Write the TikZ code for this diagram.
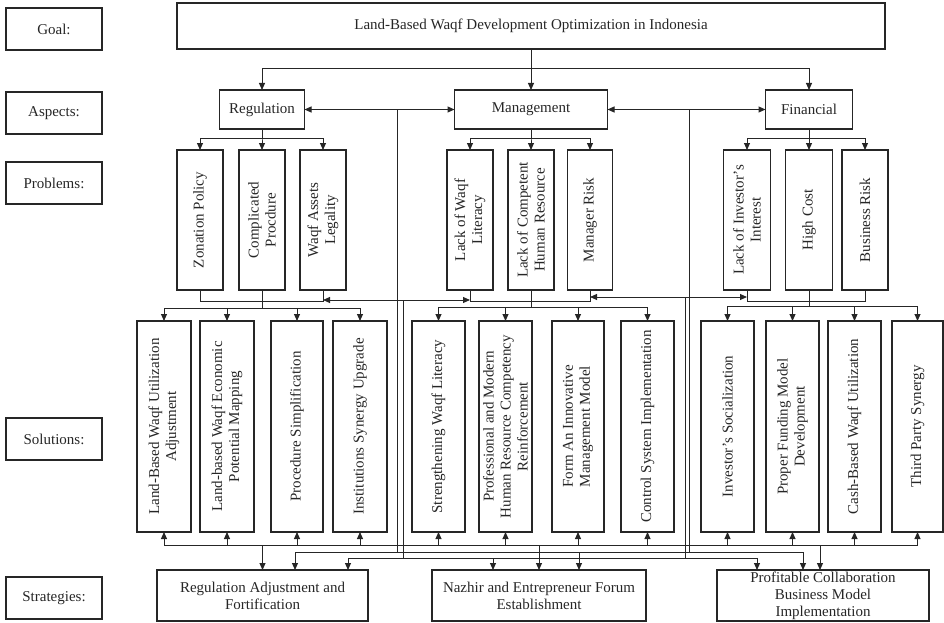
\documentclass[tikz,border=0pt]{standalone}
\usepackage{fontspec}
\setmainfont{Liberation Serif}
\usetikzlibrary{arrows.meta}
\definecolor{ink}{HTML}{262626}
\tikzset{
  bx/.style={draw=ink, line width=1.1pt, inner sep=0pt, outer sep=0pt},
  ln/.style={draw=ink, line width=1pt},
  arr/.style={ln, -{Triangle[length=7pt,width=6pt]}},
  darr/.style={ln, {Triangle[length=7pt,width=6pt]}-{Triangle[length=7pt,width=6pt]}},
  txt/.style={font=\fontsize{15}{17}\selectfont, align=center, inner sep=0pt, text=ink},
}
\newcommand\mybox[6]{%
  \node[bx, minimum width=#4, minimum height=#5] (#1) at (#2,#3) {};
  \node[txt] at (#1) {#6};}
\newcommand\myrbox[6]{%
  \node[bx, minimum width=#4, minimum height=#5] (#1) at (#2,#3) {};
  \node[txt, rotate=90] at (#1) {#6};}
\begin{document}
\begin{tikzpicture}[x=1pt,y=-1pt]
\useasboundingbox (0,0) rectangle (944,623);
% left labels
\mybox{l1}{54}{29}{96}{42}{Goal:}
\mybox{l2}{54}{113}{96}{42}{Aspects:}
\mybox{l3}{54}{183}{96}{42}{Problems:}
\mybox{l4}{54}{439}{96}{42}{Solutions:}
\mybox{l5}{54}{598}{96}{42}{Strategies:}
% goal
\mybox{goal}{531}{26}{708}{46}{Land-Based Waqf Development Optimization in Indonesia}
% aspects
\mybox{a1}{262}{109.5}{85}{39}{Regulation}
\mybox{a2}{531}{109.5}{153}{39}{Management}
\mybox{a3}{809}{109.5}{87}{39}{Financial}
% problems
\myrbox{p1}{200}{220}{46}{140}{Zonation Policy}
\myrbox{p2}{262}{220}{46}{140}{Complicated\\Procdure}
\myrbox{p3}{323}{220}{46}{140}{Waqf Assets\\Legality}
\myrbox{p4}{470}{220}{46}{140}{Lack of Waqf\\Literacy}
\myrbox{p5}{531}{220}{46}{140}{Lack of Competent\\Human Resource}
\myrbox{p6}{590}{220}{45}{140}{Manager Risk}
\myrbox{p7}{747}{220}{47}{140}{Lack of Investor’s\\Interest}
\myrbox{p8}{809}{220}{47}{140}{High Cost}
\myrbox{p9}{865}{220}{46}{140}{Business Risk}
% solutions
\myrbox{s1}{164}{426.5}{54}{211}{Land-Based Waqf Utilization\\Adjustment}
\myrbox{s2}{227}{426.5}{54}{211}{Land-based Waqf Economic\\Potential Mapping}
\myrbox{s3}{297}{426.5}{52}{211}{Procedure Simplification}
\myrbox{s4}{360}{426.5}{54}{211}{Institutions Synergy Upgrade}
\myrbox{s5}{438.5}{426.5}{53}{211}{Strengthening Waqf Literacy}
\myrbox{s6}{505.5}{426.5}{53}{211}{Professional and Modern\\Human Resource Competency\\Reinforcement}
\myrbox{s7}{578}{426.5}{52}{211}{Form An Innovative\\Management Model}
\myrbox{s8}{647.5}{426.5}{53}{211}{Control System Implementation}
\myrbox{s9}{727.5}{426.5}{53}{211}{Investor’s Socialization}
\myrbox{s10}{792.5}{426.5}{53}{211}{Proper Funding Model\\Development}
\myrbox{s11}{854.5}{426.5}{53}{211}{Cash-Based Waqf Utilization}
\myrbox{s12}{917.5}{426.5}{51}{211}{Third Party Synergy}
% strategies
\mybox{t1}{262.5}{595.5}{211}{51}{Regulation Adjustment and\\Fortification}
\mybox{t2}{539}{595.5}{214}{51}{Nazhir and Entrepreneur Forum\\Establishment}
\mybox{t3}{823}{595.5}{212}{51}{Profitable Collaboration\\Business Model\\Implementation}
% goal to aspects
\coordinate (gj) at (531,69);
\draw[arr] (goal.south) -- (a2.north);
\draw[arr] (gj) -| (a1.north);
\draw[arr] (gj) -| (a3.north);
% aspect links
\draw[darr] (a1.east) -- (a2.west);
\draw[darr] (a2.east) -- (a3.west);
% aspects to problems
\coordinate (pa) at (0,138);
\foreach \a/\p in {a1/p1,a1/p2,a1/p3,a2/p4,a2/p5,a2/p6,a3/p7,a3/p8,a3/p9}
  \draw[arr] (\a.south) -- (\a.south |- pa) -| (\p.north);
% problem bottoms joined
\coordinate (pb) at (0,301);
\draw[ln] (p1.south) |- (p3.south |- pb) -- (p3.south);
\draw[ln] (p4.south) |- (p6.south |- pb) -- (p6.south);
\draw[ln] (p7.south) |- (p9.south |- pb) -- (p9.south);
% problems to solutions
\coordinate (rd) at (0,308);
\coordinate (md) at (0,307);
\coordinate (fd) at (0,306);
\foreach \s in {s1,s2,s3,s4} \draw[arr] (p2.south) -- (p2.south |- rd) -| (\s.north);
\foreach \s in {s5,s6,s7,s8} \draw[arr] (p5.south) -- (p5.south |- md) -| (\s.north);
\foreach \s in {s9,s10,s11,s12} \draw[arr] (p8.south) -- (p8.south |- fd) -| (\s.north);
% cross links between aspects
\coordinate (v1t) at (397,109.5);
\coordinate (v4t) at (689,109.5);
\coordinate (c1) at (403,300);
\coordinate (c2) at (685,297);
\coordinate (ha) at (0,552);
\coordinate (hb) at (0,558);
\draw[arr] (c1) -- (p3.south |- c1);
\draw[arr] (c1) -- (p4.south |- c1);
\draw[arr] (c2) -- (p6.south |- c2);
\draw[arr] (c2) -- (p7.south |- c2);
\draw[ln] (v1t) -- (v1t |- ha);
\draw[ln] (v4t) -- (v4t |- ha);
\draw[ln] (c1) -- (c1 |- hb);
\draw[ln] (c2) -- (c2 |- hb);
% solutions bottom bus
\coordinate (bb) at (0,545);
\coordinate (o3) at (820,0);
\draw[ln] (s1.south |- bb) -- (s12.south |- bb);
\foreach \s in {s1,s2,s3,s4,s5,s6,s7,s8,s9,s10,s11,s12}
  \draw[arr] (\s.south |- bb) -- (\s.south);
\draw[arr] (t1.north |- bb) -- (t1.north);
\draw[arr] (t2.north |- bb) -- (t2.north);
\draw[arr] (o3 |- bb) -- (o3 |- t3.north);
% strategy distribution lines
\draw[ln] (295,552) -- (803,552);
\draw[ln] (348,558) -- (757,558);
\foreach \x/\t in {295/t1,579/t2,803/t3}
  \draw[arr] (\x,552) -- (\x,570);
\foreach \x/\t in {348/t1,493/t2,757/t3}
  \draw[arr] (\x,558) -- (\x,570);
\end{tikzpicture}
\end{document}
